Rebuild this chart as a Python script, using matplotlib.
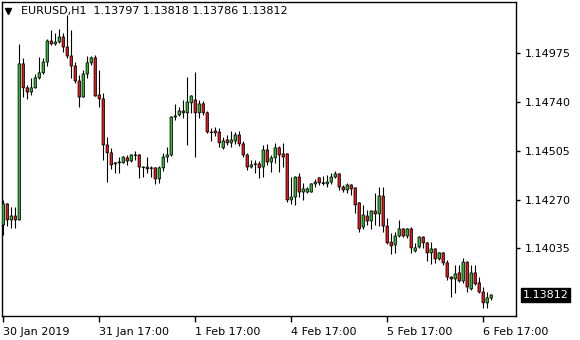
import matplotlib.pyplot as plt
import numpy as np

# EURUSD H1 candles
opens = [1.14148, 1.14249, 1.14172, 1.14191, 1.14172, 1.14921, 1.14806, 1.14786, 1.14806, 1.14854,
         1.14878, 1.14930, 1.15031, 1.15017, 1.15026, 1.15050, 1.15002, 1.14959, 1.14911, 1.14839,
         1.14762, 1.14873, 1.14926, 1.14950, 1.14772, 1.14753, 1.14532, 1.14494, 1.14446, 1.14450,
         1.14446, 1.14470, 1.14455, 1.14482, 1.14484, 1.14426, 1.14426, 1.14419, 1.14422, 1.14369,
         1.14422, 1.14474, 1.14484, 1.14666, 1.14676, 1.14695, 1.14686, 1.14734, 1.14748, 1.14686,
         1.14729, 1.14686, 1.14594, 1.14599, 1.14594, 1.14518, 1.14556, 1.14542, 1.14551, 1.14580,
         1.14537, 1.14484, 1.14426, 1.14441, 1.14441, 1.14426, 1.14508, 1.14450, 1.14470, 1.14518,
         1.14489, 1.14489, 1.14268, 1.14282, 1.14378, 1.14306, 1.14306, 1.14306, 1.14345, 1.14374,
         1.14350, 1.14345, 1.14354, 1.14378, 1.14393, 1.14330, 1.14316, 1.14340, 1.14326, 1.14254,
         1.14138, 1.14191, 1.14167, 1.14215, 1.14201, 1.14287, 1.14143, 1.14066, 1.14052, 1.14095,
         1.14129, 1.14095, 1.14129, 1.14023, 1.14042, 1.14090, 1.14062, 1.14014, 1.14033, 1.13985,
         1.14014, 1.13966, 1.13898, 1.13889, 1.13918, 1.13879, 1.13970, 1.13841, 1.13918, 1.13870,
         1.13826, 1.13774, 1.13797]
highs = [1.14268, 1.14254, 1.14234, 1.14234, 1.15017, 1.14950, 1.14820, 1.14854, 1.14873, 1.14954,
         1.14950, 1.15041, 1.15084, 1.15070, 1.15089, 1.15070, 1.15156, 1.15084, 1.14930, 1.14868,
         1.14892, 1.14959, 1.14959, 1.14964, 1.14892, 1.14782, 1.14570, 1.14518, 1.14450, 1.14474,
         1.14479, 1.14484, 1.14488, 1.14503, 1.14489, 1.14431, 1.14474, 1.14431, 1.14426, 1.14431,
         1.14494, 1.14522, 1.14671, 1.14729, 1.14714, 1.14748, 1.14858, 1.14772, 1.14882, 1.14748,
         1.14743, 1.14695, 1.14614, 1.14618, 1.14614, 1.14570, 1.14580, 1.14599, 1.14594, 1.14599,
         1.14551, 1.14494, 1.14460, 1.14460, 1.14455, 1.14532, 1.14537, 1.14484, 1.14542, 1.14527,
         1.14542, 1.14494, 1.14378, 1.14383, 1.14398, 1.14350, 1.14330, 1.14350, 1.14369, 1.14378,
         1.14383, 1.14388, 1.14398, 1.14407, 1.14398, 1.14340, 1.14350, 1.14345, 1.14330, 1.14258,
         1.14244, 1.14220, 1.14220, 1.14302, 1.14330, 1.14330, 1.14182, 1.14110, 1.14114, 1.14172,
         1.14134, 1.14134, 1.14138, 1.14062, 1.14095, 1.14095, 1.14066, 1.14066, 1.14038, 1.14018,
         1.14018, 1.13980, 1.13903, 1.13956, 1.13956, 1.13990, 1.13975, 1.13956, 1.13956, 1.13898,
         1.13850, 1.13826, 1.13818]
lows = [1.14100, 1.14143, 1.14134, 1.14134, 1.14172, 1.14762, 1.14753, 1.14772, 1.14806, 1.14849,
        1.14873, 1.14911, 1.15012, 1.15012, 1.15022, 1.14978, 1.14950, 1.14854, 1.14830, 1.14714,
        1.14762, 1.14854, 1.14916, 1.14767, 1.14714, 1.14460, 1.14354, 1.14417, 1.14398, 1.14398,
        1.14446, 1.14436, 1.14450, 1.14460, 1.14374, 1.14378, 1.14398, 1.14378, 1.14345, 1.14350,
        1.14407, 1.14450, 1.14480, 1.14652, 1.14671, 1.14662, 1.14532, 1.14686, 1.14474, 1.14662,
        1.14676, 1.14590, 1.14551, 1.14575, 1.14522, 1.14513, 1.14532, 1.14522, 1.14537, 1.14527,
        1.14474, 1.14412, 1.14422, 1.14398, 1.14374, 1.14378, 1.14436, 1.14402, 1.14446, 1.14402,
        1.14426, 1.14258, 1.14249, 1.14244, 1.14282, 1.14268, 1.14302, 1.14306, 1.14330, 1.14340,
        1.14340, 1.14330, 1.14345, 1.14374, 1.14316, 1.14306, 1.14302, 1.14292, 1.14206, 1.14114,
        1.14129, 1.14148, 1.14129, 1.14148, 1.14143, 1.14114, 1.14057, 1.14009, 1.14014, 1.14090,
        1.14090, 1.14086, 1.14014, 1.14018, 1.14038, 1.14038, 1.13975, 1.13961, 1.13966, 1.13980,
        1.13956, 1.13884, 1.13802, 1.13822, 1.13874, 1.13870, 1.13826, 1.13836, 1.13860, 1.13822,
        1.13750, 1.13750, 1.13786]
closes = [1.14249, 1.14172, 1.14191, 1.14172, 1.14921, 1.14806, 1.14786, 1.14806, 1.14854, 1.14878,
          1.14930, 1.15031, 1.15017, 1.15026, 1.15050, 1.15002, 1.14959, 1.14911, 1.14839, 1.14762,
          1.14873, 1.14926, 1.14950, 1.14767, 1.14753, 1.14532, 1.14494, 1.14436, 1.14441, 1.14446,
          1.14474, 1.14455, 1.14484, 1.14484, 1.14426, 1.14424, 1.14417, 1.14422, 1.14369, 1.14422,
          1.14474, 1.14484, 1.14666, 1.14671, 1.14695, 1.14686, 1.14738, 1.14767, 1.14686, 1.14729,
          1.14686, 1.14594, 1.14592, 1.14590, 1.14542, 1.14551, 1.14542, 1.14556, 1.14580, 1.14537,
          1.14484, 1.14426, 1.14436, 1.14438, 1.14422, 1.14508, 1.14450, 1.14470, 1.14518, 1.14484,
          1.14474, 1.14268, 1.14282, 1.14378, 1.14306, 1.14321, 1.14321, 1.14345, 1.14354, 1.14350,
          1.14347, 1.14354, 1.14378, 1.14393, 1.14330, 1.14316, 1.14340, 1.14321, 1.14244, 1.14129,
          1.14196, 1.14167, 1.14215, 1.14201, 1.14287, 1.14143, 1.14062, 1.14047, 1.14095, 1.14129,
          1.14095, 1.14129, 1.14038, 1.14038, 1.14090, 1.14062, 1.14014, 1.14033, 1.13985, 1.14014,
          1.13966, 1.13898, 1.13889, 1.13913, 1.13879, 1.13970, 1.13850, 1.13918, 1.13865, 1.13826,
          1.13774, 1.13798, 1.13812]

price_ticks = [1.14035, 1.14270, 1.14505, 1.14740, 1.14975]
date_labels = ["30 Jan 2019", "31 Jan 17:00", "1 Feb 17:00", "4 Feb 17:00", "5 Feb 17:00", "6 Feb 17:00"]
date_idx = [0, 24, 48, 72, 96, 120]
symbol = "EURUSD,H1"

o = np.array(opens); h = np.array(highs); l = np.array(lows); c = np.array(closes)
x = np.arange(len(o))
up = c >= o

plt.rcParams['font.family'] = 'DejaVu Sans'
fig = plt.figure(figsize=(5.8, 3.4), dpi=100)
ax = fig.add_axes([2/580, 24/340, 514/580, 314/340])

ax.vlines(x, l, h, color='black', lw=0.8, zorder=2)
ax.bar(x[up], c[up] - o[up], bottom=o[up], width=0.62, color='#2fb82f',
       edgecolor='black', linewidth=0.55, zorder=3, snap=False)
ax.bar(x[~up], c[~up] - o[~up], bottom=o[~up], width=0.62, color='#e01818',
       edgecolor='black', linewidth=0.55, zorder=3, snap=False)

ax.set_xlim(-0.33, 128.2)
ax.set_ylim(1.13711, 1.15218)

ax.yaxis.tick_right()
ax.set_yticks(price_ticks)
ax.set_yticklabels([f"{p:.5f}" for p in price_ticks])
ax.tick_params(axis='y', length=3, width=1, pad=3, labelsize=8)

ax.set_xticks(date_idx)
ax.set_xticklabels(date_labels, ha='left')
ax.tick_params(axis='x', length=4, width=1, pad=4, labelsize=8)

for s in ax.spines.values():
    s.set_linewidth(1)

# last price tag
ax.annotate(f"{closes[-1]:.5f}", xy=(1, closes[-1]), xycoords=('axes fraction', 'data'),
            xytext=(5, 0), textcoords='offset points', va='center', ha='left',
            fontsize=8, color='white',
            bbox=dict(boxstyle='square,pad=0.15', fc='black', ec='black'))

# header
ax.plot([0.012], [0.972], marker='v', color='black', markersize=5, transform=ax.transAxes, clip_on=False)
ax.text(0.037, 0.972, f"{symbol}  {opens[-1]:.5f} {highs[-1]:.5f} {lows[-1]:.5f} {closes[-1]:.5f}",
        transform=ax.transAxes, va='center', ha='left', fontsize=8, color='black')

fig.savefig("out.png", dpi=100)
